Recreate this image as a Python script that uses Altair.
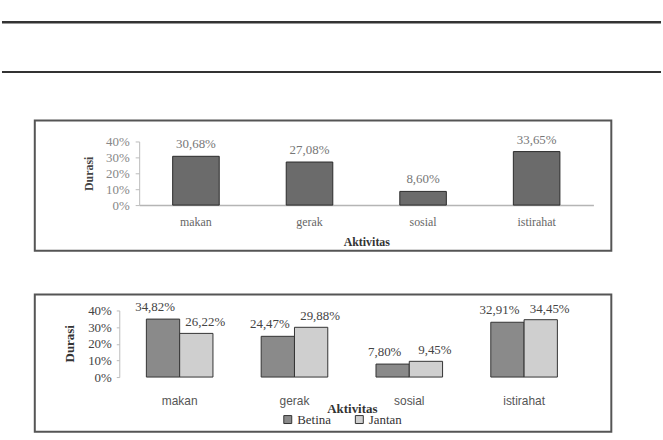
import altair as alt
import pandas as pd

# ---------------- data ----------------
kategori = ["makan", "gerak", "sosial", "istirahat"]
durasi_total = [0.3068, 0.2708, 0.0860, 0.3365]
label_total = ["30,68%", "27,08%", "8,60%", "33,65%"]

jenis = ["Betina", "Jantan"]
durasi_betina = [0.3482, 0.2447, 0.0780, 0.3291]
durasi_jantan = [0.2622, 0.2988, 0.0945, 0.3445]
label_betina = ["34,82%", "24,47%", "7,80%", "32,91%"]
label_jantan = ["26,22%", "29,88%", "9,45%", "34,45%"]

y_ticks = [0, 0.1, 0.2, 0.3, 0.4]

SERIF = "Liberation Serif"
SANS = "Liberation Sans"

df1 = pd.DataFrame({"Aktivitas": kategori, "Durasi": durasi_total, "Label": label_total})
rows = []
for k, b, j, lb, lj in zip(kategori, durasi_betina, durasi_jantan, label_betina, label_jantan):
    rows.append({"Aktivitas": k, "Jenis": "Betina", "Durasi": b, "Label": lb})
    rows.append({"Aktivitas": k, "Jenis": "Jantan", "Durasi": j, "Label": lj})
df2 = pd.DataFrame(rows)

# ---------------- panel A: table rules ----------------
blank = alt.Data(values=[{}])
rule_top = alt.Chart(blank).mark_rule(color="#333", strokeWidth=2.5).encode(
    x=alt.value(-33), x2=alt.value(630), y=alt.value(20))
rule_bot = alt.Chart(blank).mark_rule(color="#333", strokeWidth=2).encode(
    x=alt.value(-33), x2=alt.value(630), y=alt.value(70))
panel_a = alt.layer(rule_top, rule_bot).properties(
    width=580, height=75, view=alt.ViewBackground(stroke="transparent"))

# ---------------- panel B: total ----------------
x1 = alt.X("Aktivitas:N", sort=kategori,
           scale=alt.Scale(range=[105, 562], paddingInner=0.59, paddingOuter=0.295),
           axis=alt.Axis(orient="bottom", offset=-46, domainColor="#b5b5b5", domainWidth=1.5,
                         ticks=False, labelAngle=0, labelFont=SERIF, labelFontSize=12,
                         labelColor="#666", labelPadding=12,
                         title="Aktivitas", titleFont=SERIF, titleFontSize=12,
                         titleFontWeight="bold", titleColor="#333",
                         titleY=37, titleBaseline="middle"))
y1 = alt.Y("Durasi:Q",
           scale=alt.Scale(domain=[0, 0.4], range=[85, 21]),
           axis=alt.Axis(offset=-105, values=y_ticks, format=".0%", grid=False,
                         domainColor="#bbb", tickColor="#bbb", tickSize=4, labelPadding=6,
                         labelFont=SERIF, labelFontSize=13, labelColor="#888",
                         title="Durasi", titleFont=SERIF, titleFontSize=12,
                         titleFontWeight="bold", titleColor="#444",
                         titleX=-51, titleY=53, titleAngle=-90,
                         titleBaseline="middle", titleAlign="center"))
base1 = alt.Chart(df1).encode(x=x1, y=y1)
bars1 = base1.mark_bar(fill="#6b6b6b", stroke="#2a2a2a", strokeWidth=1)
text1 = base1.mark_text(dy=-12, font=SERIF, fontSize=13, color="#777", baseline="middle").encode(
    text="Label:N")
panel_b = alt.layer(bars1, text1).properties(
    width=580, height=131, view=alt.ViewBackground(stroke="#555", strokeWidth=2))

# ---------------- panel C: Betina vs Jantan ----------------
x2 = alt.X("Aktivitas:N", sort=kategori,
           scale=alt.Scale(range=[88, 550], paddingInner=0.42, paddingOuter=0.21),
           axis=alt.Axis(orient="bottom", offset=-55, domain=False, ticks=False, labelAngle=0,
                         labelFont=SANS, labelFontSize=12, labelColor="#555", labelPadding=19,
                         title="Aktivitas", titleFont=SERIF, titleFontSize=13,
                         titleFontWeight="bold", titleColor="#333",
                         titleY=32, titleBaseline="middle"))
y2 = alt.Y("Durasi:Q",
           scale=alt.Scale(domain=[0, 0.4], range=[83, 16]),
           axis=alt.Axis(offset=-85, values=y_ticks, format=".0%", grid=False,
                         domainColor="#bbb", tickColor="#bbb", tickSize=3, labelPadding=5,
                         labelFont=SERIF, labelFontSize=13, labelColor="#444",
                         title="Durasi", titleFont=SERIF, titleFontSize=13,
                         titleFontWeight="bold", titleColor="#333",
                         titleX=-50, titleY=49, titleAngle=-90,
                         titleBaseline="middle", titleAlign="center"))
xo = alt.XOffset("Jenis:N", sort=jenis)
color = alt.Color("Jenis:N", sort=jenis,
                  scale=alt.Scale(domain=jenis, range=["#8a8a8a", "#cfcfcf"]),
                  legend=alt.Legend(orient="none", legendX=248, legendY=413,
                                    direction="horizontal", title=None,
                                    symbolType="square", symbolSize=64,
                                    symbolStrokeColor="#333", symbolStrokeWidth=1,
                                    labelFont=SERIF, labelFontSize=13, labelColor="#333",
                                    labelOffset=3, columnPadding=22))
base2 = alt.Chart(df2).encode(x=x2, y=y2, xOffset=xo)
bars2 = base2.mark_bar(stroke="#333", strokeWidth=1).encode(color=color)
text2b = base2.transform_filter(alt.datum.Jenis == "Betina").mark_text(
    dy=-12, dx=-8, font=SERIF, fontSize=13, color="#444", baseline="middle").encode(text="Label:N")
text2j = base2.transform_filter(alt.datum.Jenis == "Jantan").mark_text(
    dy=-11, dx=9, font=SERIF, fontSize=13, color="#444", baseline="middle").encode(text="Label:N")
panel_c = alt.layer(bars2, text2b, text2j).properties(
    width=580, height=138, view=alt.ViewBackground(stroke="#555", strokeWidth=2))

chart = alt.vconcat(panel_a, panel_b, panel_c, spacing=44, bounds="flush").properties(
    padding={"left": 0, "top": 0, "right": 0, "bottom": 8},
    background="white",
)

chart.save("out.html", embed_options={"renderer": "svg", "actions": False})
